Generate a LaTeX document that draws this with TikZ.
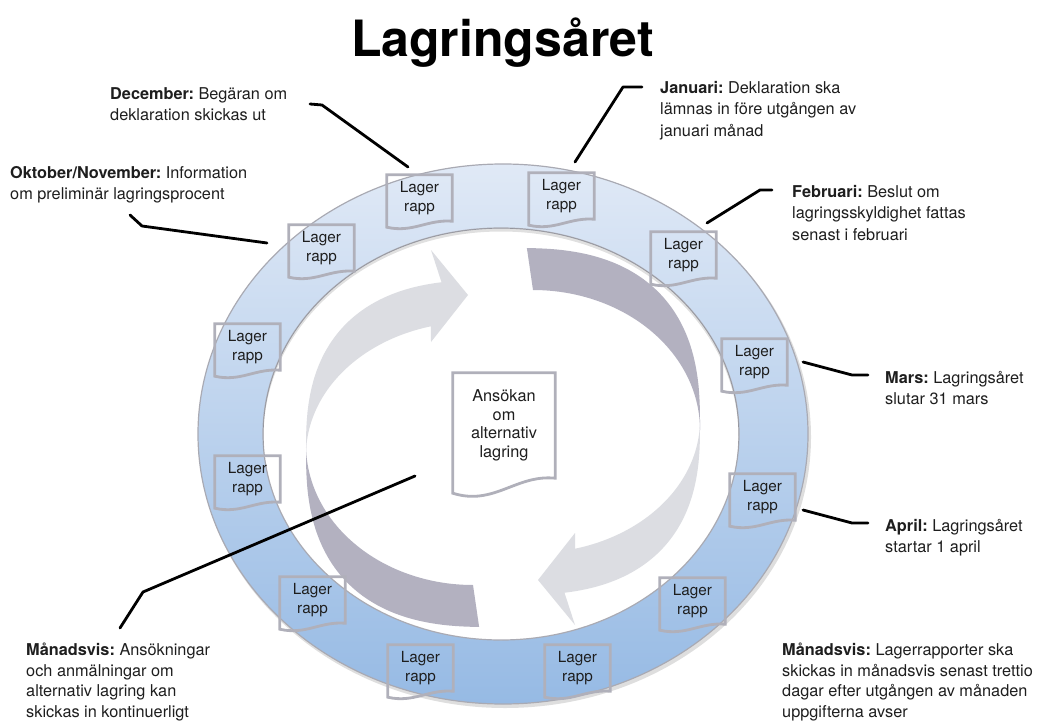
\documentclass[tikz,border=0pt]{standalone}
\usepackage{fontspec}
\setmainfont{TeX Gyre Heros}
\usetikzlibrary{calc}
\frenchspacing
\definecolor{ringtop}{HTML}{E0E9F6}
\definecolor{ringbot}{HTML}{96BAE4}
\definecolor{ringedge}{HTML}{A9AAB3}
\definecolor{docedge}{HTML}{B0B0BA}
\definecolor{arrdark}{HTML}{B3B1C0}
\definecolor{arrlight}{HTML}{DCDDE2}
\definecolor{txt}{HTML}{1E1E1E}
\newcommand\lagerdoc[3]{%
  \node[docbox] (#1) at (#2,#3) {Lager\\rapp};
  \draw[docline] ($(#1.south west)+(0,6)$) -- (#1.north west) -- (#1.north east) -- (#1.south east)
    .. controls ($(#1.south)+(8,-2)$) and ($(#1.south)+(-7,12)$) .. ($(#1.south west)+(0,6)$) -- cycle;
}
\newcommand\cyclearrow{%
  \fill[arrdark] plot[domain=88.3:0.3, samples=70, variable=\t] ({515+185*pow(cos(\t),0.78)},{425-177*pow(sin(\t),0.78)})
    -- (700,425) -- (700,430)
    -- plot[domain=0:90, samples=60, variable=\t] ({533+167*cos(\t)},{430-140*sin(\t)}) -- cycle;
  \fill[arrlight] (700,425)
    -- plot[domain=-0.3:-79.4, samples=70, variable=\t] ({515+185*pow(cos(\t),0.78)},{425+170*pow(sin(-\t),0.78)})
    -- (575,625) -- (538,580) -- (575,533)
    -- plot[domain=-75.4:0, samples=60, variable=\t] ({533+167*cos(\t)},{420-133*sin(\t)}) -- cycle;
}
\begin{document}
\begin{tikzpicture}[x=1pt,y=-1pt,
  lbl/.style={anchor=north west, inner sep=0pt, align=left, text=txt, font=\fontsize{16.3}{21.5}\selectfont},
  lead/.style={line width=2.8pt, line cap=round, line join=round, black},
  docbox/.style={minimum width=65pt, minimum height=46pt, inner sep=0pt, align=center, text=txt, font=\fontsize{15.3}{18.5}\selectfont},
  docline/.style={draw=docedge, line width=2.8pt, line join=miter},
]
\useasboundingbox (0,0) rectangle (1040,722);

% ring
\fill[black,opacity=0.13] (505,437) ellipse [x radius=306pt, y radius=271pt];
\shadedraw[top color=ringtop, bottom color=ringbot, draw=ringedge, line width=1.2pt] (503,434) ellipse [x radius=305pt, y radius=270pt];
\filldraw[fill=white, draw=ringedge, line width=1.2pt] (501,434) ellipse [x radius=238pt, y radius=206pt];
\begin{scope}
  \clip (501,434) ellipse [x radius=238pt, y radius=206pt];
  \draw[black, opacity=0.12, line width=5pt] (501,437) ellipse [x radius=240pt, y radius=208pt];
\end{scope}

% cycle arrows
\cyclearrow
\begin{scope}[rotate around={180:(503,437.5)}]
  \cyclearrow
\end{scope}

% report documents on the ring
\lagerdoc{d1}{419.5}{198}
\lagerdoc{d2}{561.5}{196}
\lagerdoc{d3}{683.5}{255}
\lagerdoc{d4}{754.5}{362}
\lagerdoc{d5}{762.5}{497}
\lagerdoc{d6}{692.5}{601}
\lagerdoc{d7}{577.5}{668}
\lagerdoc{d8}{420.5}{668}
\lagerdoc{d9}{312.5}{600}
\lagerdoc{d10}{247.5}{479}
\lagerdoc{d11}{247.5}{347}
\lagerdoc{d12}{321.5}{248}

% central document
\node[docbox, minimum width=102pt, minimum height=105pt, font=\fontsize{16.3}{18.5}\selectfont] (ans) at (504,425.5) {Ansökan\\om\\alternativ\\lagring};
\draw[docline, line width=2.8pt] ($(ans.south west)+(0,15)$) -- (ans.north west) -- (ans.north east) -- (ans.south east)
  .. controls ($(ans.south)+(12,-4)$) and ($(ans.south)+(-10,28)$) .. ($(ans.south west)+(0,15)$) -- cycle;

% title
\node[anchor=base, font=\fontsize{50}{60}\selectfont\bfseries, text=black] (title) at (502.5,57) {Lagringsåret};

% labels
\node[lbl] (dec) at (110,87) {\textbf{December:} Begäran om\\deklaration skickas ut};
\node[lbl] (okt) at (10,166) {\textbf{Oktober/November:} Information\\om preliminär lagringsprocent};
\node[lbl] (jan) at (660,81) {\textbf{Januari:} Deklaration ska\\lämnas in före utgången av\\januari månad};
\node[lbl] (feb) at (792,185) {\textbf{Februari:} Beslut om\\lagringsskyldighet fattas\\senast i februari};
\node[lbl] (mar) at (885,371) {\textbf{Mars:} Lagringsåret\\slutar 31 mars};
\node[lbl] (apr) at (885,519) {\textbf{April:} Lagringsåret\\startar 1 april};
\node[lbl, font=\fontsize{16.3}{20.5}\selectfont] (manL) at (26,643) {\textbf{Månadsvis:} Ansökningar\\och anmälningar om\\alternativ lagring kan\\skickas in kontinuerligt};
\node[lbl, font=\fontsize{16.3}{20.5}\selectfont] (manR) at (782,643) {\textbf{Månadsvis:} Lagerrapporter ska\\skickas in månadsvis senast trettio\\dagar efter utgången av månaden\\uppgifterna avser};

% leader lines
\coordinate (decA) at (408,167); \coordinate (decB) at (322,105); \coordinate (decC) at (310,104);
\coordinate (oktA) at (267,243); \coordinate (oktB) at (142,226); \coordinate (oktC) at (130,215);
\coordinate (janA) at (575,162); \coordinate (janB) at (623,87);  \coordinate (janC) at (642,87);
\coordinate (febA) at (707,223); \coordinate (febB) at (760,190); \coordinate (febC) at (772,190);
\coordinate (marA) at (803,362); \coordinate (marB) at (852,375); \coordinate (marC) at (868,375);
\coordinate (aprA) at (803,510); \coordinate (aprB) at (852,523); \coordinate (aprC) at (868,523);
\coordinate (manA) at (415,476); \coordinate (manB) at (143,592); \coordinate (manC) at (120,628);
\draw[lead] (decA) -- (decB) -- (decC);
\draw[lead] (oktA) -- (oktB) -- (oktC);
\draw[lead] (janA) -- (janB) -- (janC);
\draw[lead] (febA) -- (febB) -- (febC);
\draw[lead] (marA) -- (marB) -- (marC);
\draw[lead] (aprA) -- (aprB) -- (aprC);
\draw[lead] (manA) -- (manB) -- (manC);
\end{tikzpicture}
\end{document}
